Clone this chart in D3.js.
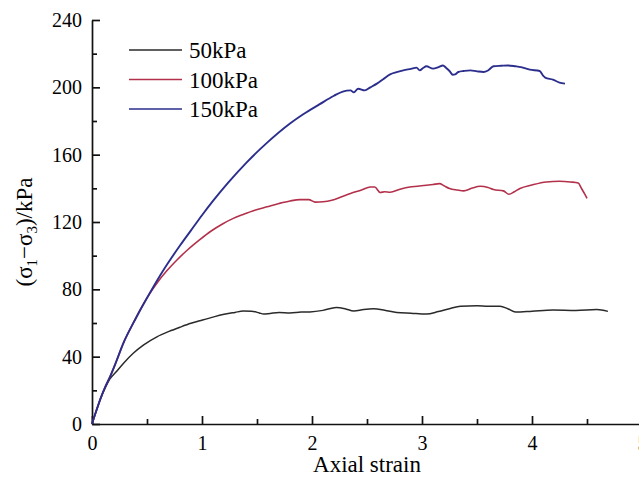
<!DOCTYPE html>
<html lang="en">
<head>
<meta charset="UTF-8">
<title>Deviator stress vs axial strain</title>
<script src="https://d3js.org/d3.v7.min.js"></script>
<style>
    body { margin: 0; background: #fff; }
    svg { display: block; }
    .axis text { font-family: "Liberation Serif", "Times New Roman", serif; font-size: 20px; fill: #000; }
    .axis path, .axis line { stroke: #111; stroke-width: 1.7px; }
    .label { font-family: "Liberation Serif", "Times New Roman", serif; font-size: 23px; fill: #000; }
    .legend text { font-family: "Liberation Serif", "Times New Roman", serif; font-size: 23px; fill: #000; }
</style>
</head>
<body>
<svg width="639" height="484"></svg>
<script>
    const width = 639, height = 484;
    const margin = {top: 20, right: -3, bottom: 60, left: 92};

    // series names and colours
    const seriesNames = ["50kPa", "100kPa", "150kPa"];
    const seriesColors = ["#2a2a2a", "#b3304b", "#2b2e8c"];

    // 50kPa
    const strain50 = [0, 0.04, 0.08, 0.12, 0.16, 0.22, 0.285, 0.375, 0.47, 0.59, 0.7, 0.8, 0.9, 0.98, 1.1, 1.19, 1.3, 1.375, 1.45, 1.52, 1.56, 1.62, 1.7, 1.8, 1.9, 1.98, 2.1, 2.22, 2.3, 2.38, 2.47, 2.56, 2.66, 2.77, 2.9, 3.04, 3.15, 3.25, 3.35, 3.5, 3.6, 3.71, 3.78, 3.85, 4.0, 4.19, 4.4, 4.59, 4.69];
    const stress50 = [0, 8, 15.5, 21.5, 26.5, 31, 36, 42, 47, 51.8, 55, 57.5, 59.8, 61.3, 63.5, 65, 66.3, 67.1, 67, 66, 65.3, 65.7, 66.2, 66, 66.5, 66.6, 67.5, 69.2, 68.5, 67.1, 68, 68.4, 67.6, 66.3, 65.8, 65.3, 66.8, 68.5, 70, 70.2, 69.9, 70, 68.5, 66.5, 67, 67.7, 67.5, 68, 66.9];

    // 100kPa
    const strain100 = [0, 0.04, 0.08, 0.12, 0.16, 0.22, 0.285, 0.36, 0.436, 0.51, 0.588, 0.68, 0.77, 0.87, 0.98, 1.08, 1.19, 1.28, 1.375, 1.48, 1.59, 1.7, 1.8, 1.89, 1.97, 2.03, 2.1, 2.18, 2.27, 2.35, 2.45, 2.53, 2.57, 2.62, 2.66, 2.71, 2.8, 2.89, 2.96, 3.04, 3.1, 3.16, 3.2, 3.25, 3.32, 3.38, 3.45, 3.53, 3.6, 3.65, 3.74, 3.79, 3.84, 3.89, 4.0, 4.13, 4.25, 4.35, 4.42, 4.45, 4.48, 4.5];
    const stress100 = [0, 8, 15.5, 22, 27.5, 37, 47.9, 58, 67.7, 76, 83.5, 91, 97.3, 103.5, 109.5, 114.5, 119, 122, 124.5, 127, 129, 131, 132.5, 133.3, 133.3, 131.8, 132, 132.9, 135, 136.9, 139, 140.8, 140.8, 137.5, 138, 137.7, 139.5, 140.8, 141.2, 141.8, 142.3, 142.8, 141.5, 139.9, 139, 138.5, 140, 141.2, 140.5, 139.3, 138.5, 136.5, 138, 139.9, 142, 143.8, 144.2, 143.8, 143.2, 139.9, 136.5, 134];

    // 150kPa
    const strain150 = [0, 0.04, 0.08, 0.12, 0.16, 0.22, 0.285, 0.4, 0.527, 0.65, 0.8, 0.9, 1.0, 1.1, 1.24, 1.4, 1.59, 1.8, 1.92, 2.07, 2.2, 2.28, 2.35, 2.38, 2.42, 2.48, 2.53, 2.59, 2.65, 2.71, 2.77, 2.83, 2.9, 2.95, 2.98, 3.01, 3.04, 3.1, 3.15, 3.19, 3.22, 3.25, 3.28, 3.3, 3.33, 3.38, 3.44, 3.5, 3.56, 3.6, 3.65, 3.72, 3.78, 3.85, 3.9, 3.98, 4.07, 4.1, 4.12, 4.19, 4.25, 4.3];
    const stress150 = [0, 8, 15.5, 22, 27.5, 37, 48, 63, 78, 91.5, 106, 115, 124, 132.5, 143.5, 155, 167, 178.5, 184, 190, 195, 197.5, 198.2, 197, 199.2, 198.2, 200, 202.2, 205, 207.7, 209, 210.1, 211, 211.7, 210.1, 211.5, 212.5, 211.1, 212, 213, 211.5, 209.7, 207.5, 207.7, 209.1, 209.7, 210.1, 209.5, 209.1, 210, 212.5, 212.8, 213, 212.5, 212, 210.5, 209.7, 207, 205.8, 204.6, 202.8, 202.2];

    const xTicks = [0, 1, 2, 3, 4, 5];
    const xMinor = [0.5, 1.5, 2.5, 3.5, 4.5];
    const yTicks = [0, 40, 80, 120, 160, 200, 240];
    const yMinor = [20, 60, 100, 140, 180, 220];

    const series = [
        {name: seriesNames[0], color: seriesColors[0], x: strain50, y: stress50, w: 1.5},
        {name: seriesNames[1], color: seriesColors[1], x: strain100, y: stress100, w: 1.6},
        {name: seriesNames[2], color: seriesColors[2], x: strain150, y: stress150, w: 1.9}
    ];

    const svg = d3.select("svg");

    const x = d3.scaleLinear().domain([0, 5]).range([margin.left, 642]);
    const y = d3.scaleLinear().domain([0, 240]).range([424, margin.top]);

    // minor ticks
    svg.append("g").attr("class", "axis")
        .attr("transform", "translate(0,424)")
        .call(d3.axisBottom(x).tickValues(xMinor).tickSize(-5).tickFormat(""))
        .call(g => g.select(".domain").remove());
    svg.append("g").attr("class", "axis")
        .attr("transform", `translate(${margin.left},0)`)
        .call(d3.axisLeft(y).tickValues(yMinor).tickSize(-5).tickFormat(""))
        .call(g => g.select(".domain").remove());

    // major axes
    svg.append("g").attr("class", "axis")
        .attr("transform", "translate(0,424)")
        .call(d3.axisBottom(x).tickValues(xTicks).tickSize(-8).tickSizeOuter(0).tickPadding(12).tickFormat(d3.format("d")));
    svg.append("g").attr("class", "axis")
        .attr("transform", `translate(${margin.left},0)`)
        .call(d3.axisLeft(y).tickValues(yTicks).tickSize(-8).tickSizeOuter(0).tickPadding(10));

    // curves
    const line = d3.line()
        .x(d => x(d[0]))
        .y(d => y(d[1]))
        .curve(d3.curveMonotoneX);

    series.forEach(s => {
        svg.append("path")
            .datum(s.x.map((v, i) => [v, s.y[i]]))
            .attr("fill", "none")
            .attr("stroke", s.color)
            .attr("stroke-width", s.w)
            .attr("stroke-linejoin", "round")
            .attr("d", line);
    });

    // legend
    const legend = svg.append("g").attr("class", "legend");
    series.forEach((s, i) => {
        const ly = 50 + i * 29.5;
        legend.append("line")
            .attr("x1", 129).attr("x2", 182)
            .attr("y1", ly).attr("y2", ly)
            .attr("stroke", s.color)
            .attr("stroke-width", 1.3);
        legend.append("text")
            .attr("x", 189).attr("y", ly)
            .attr("dy", "0.35em")
            .text(s.name);
    });

    // axis labels
    svg.append("text")
        .attr("class", "label")
        .attr("x", 367).attr("y", 472)
        .attr("text-anchor", "middle")
        .text("Axial strain");

    const yl = svg.append("text")
        .attr("class", "label")
        .attr("transform", "translate(32,232) rotate(-90)")
        .attr("text-anchor", "middle");
    yl.append("tspan").text("(σ");
    yl.append("tspan").attr("dy", 5).style("font-size", "15px").text("1");
    yl.append("tspan").attr("dy", -5).text("−σ");
    yl.append("tspan").attr("dy", 5).style("font-size", "15px").text("3");
    yl.append("tspan").attr("dy", -5).text(")/kPa");
</script>
</body>
</html>
